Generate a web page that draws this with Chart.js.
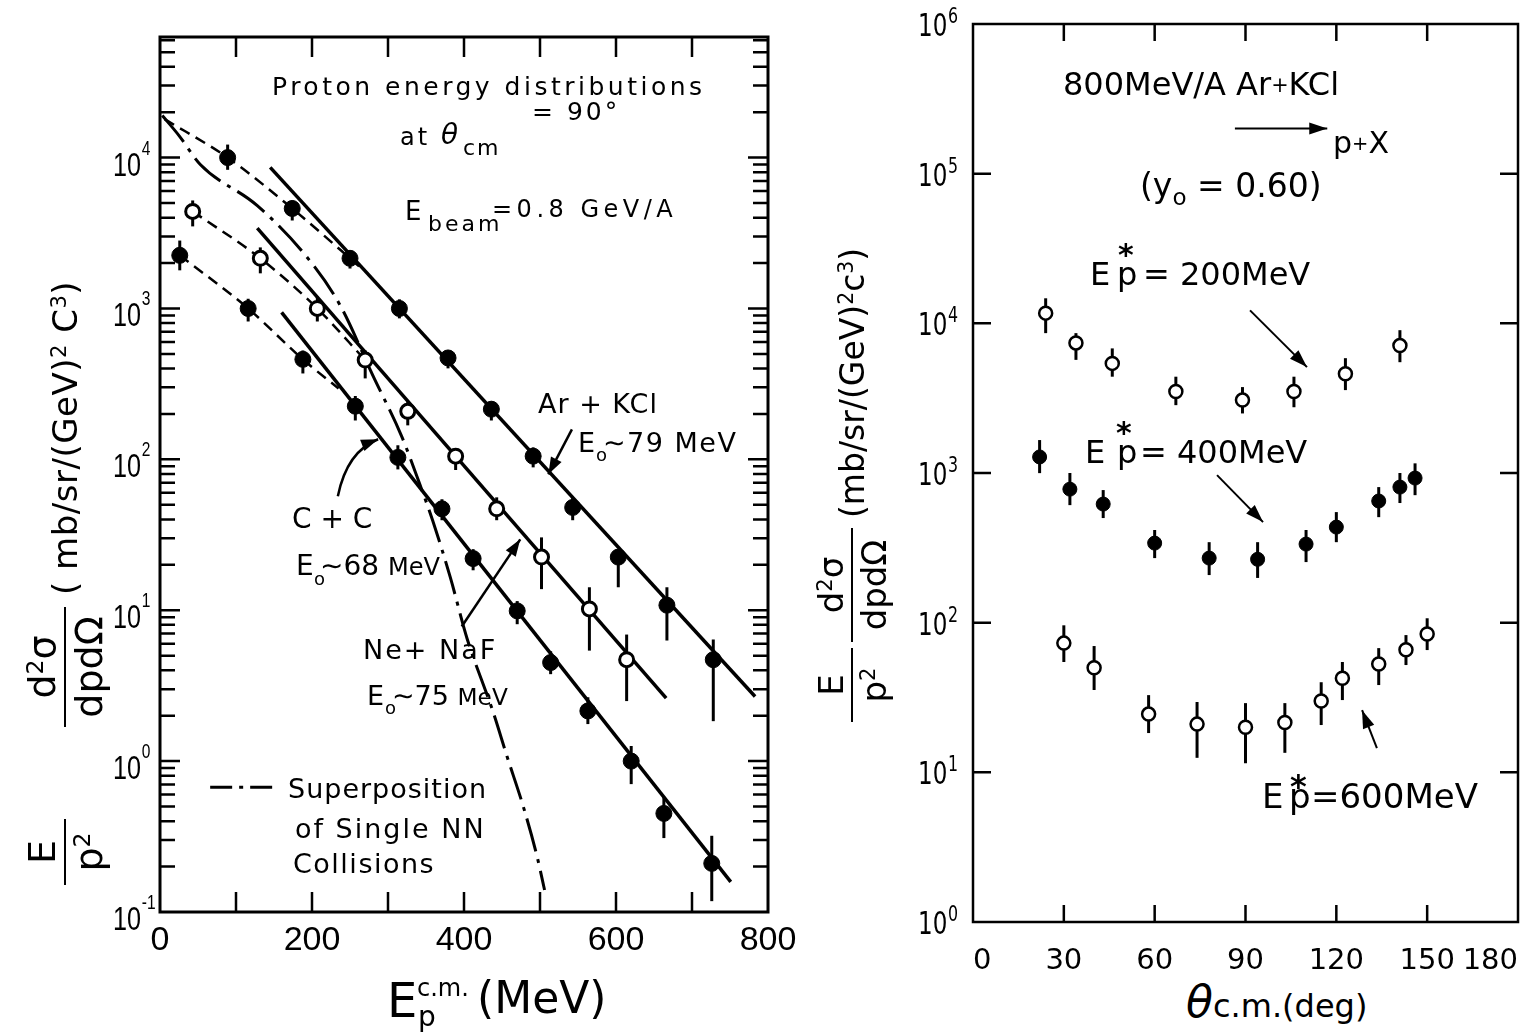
<!DOCTYPE html>
<html>
<head>
<meta charset="utf-8">
<script src="https://cdn.jsdelivr.net/npm/chart.js@4.4.1/dist/chart.umd.min.js"></script>
<style>
  html, body { margin: 0; padding: 0; background: #fff; }
  #page { position: relative; width: 1529px; height: 1035px; overflow: hidden;
          font-family: 'DejaVu Sans', sans-serif; color: #000; }
  canvas { position: absolute; top: 0; }
  .t { position: absolute; white-space: nowrap; line-height: 1; }
  .sub { position: relative; top: 0.35em; font-size: 0.7em; }
  .sup { position: relative; top: -0.5em; font-size: 0.62em; }
  .ytitle { position: absolute; display: flex; align-items: center; white-space: nowrap;
            line-height: 1; transform: rotate(-90deg); transform-origin: 0 50%; }
  .frac { display: inline-flex; flex-direction: column; align-items: stretch; text-align: center; }
  .frac > span:first-child { border-bottom: 2.5px solid #000; padding-bottom: 3px; }
  .frac > span:last-child { padding-top: 4px; }
</style>
</head>
<body>
<div id="page">
  <canvas id="spectra" width="800" height="975" style="left:0"></canvas>
  <canvas id="angular" width="729" height="975" style="left:800px"></canvas>

  <div class="ytitle" style="left:65px; top:840px; height:90px;">
    <span class="frac" style="font-size:38px; margin-right:92px; width:66px"><span>E</span><span>p<span class="sup">2</span></span></span>
    <span class="frac" style="font-size:38px; margin-right:12px; width:120px"><span>d<span class="sup">2</span>σ</span><span>dpdΩ</span></span>
    <span style="font-size:34px; letter-spacing:0.5px">( mb/sr/(GeV)<span class="sup">2</span> C<span class="sup">3</span>)</span>
  </div>

  <div class="ytitle" style="left:852px; top:674px; height:96px;">
    <span class="frac" style="font-size:34px; margin-right:6px; width:74px"><span>E</span><span>p<span class="sup">2</span></span></span>
    <span class="frac" style="font-size:34px; margin-right:10px; width:114px"><span>d<span class="sup">2</span>σ</span><span>dpdΩ</span></span>
    <span style="font-size:33px">(mb/sr/(GeV)<span class="sup">2</span>c<span class="sup">3</span>)</span>
  </div>
</div>

<script>
// ---- left panel: proton energy spectra at 90 deg c.m. ----
const arE   = [89, 174, 250, 315, 379, 436, 491, 543, 603, 667, 728];
const arSig = [1.0e4, 4.6e3, 2.15e3, 1.0e3, 470, 215, 105, 48, 22.5, 10.8, 4.7];
const arLo  = [8.3e3, 3.83e3, 1.84e3, 860, 401, 181, 88.5, 39.5, 14.2, 6.3, 1.84];
const arHi  = [1.22e4, 5.2e3, 2.42e3, 1.15e3, 527, 242, 120, 56, 25, 14.2, 6.4];

const neE   = [43, 132, 207, 270, 326, 389, 443, 502, 565, 614];
const neSig = [4.4e3, 2.15e3, 1.0e3, 455, 208, 105, 47, 22.5, 10.2, 4.7];
const neLo  = [3.5e3, 1.71e3, 820, 344, 168, 85, 39.5, 13.8, 5.4, 2.5];
const neHi  = [5.2e3, 2.54e3, 1.2e3, 527, 242, 115, 56, 30.4, 14.2, 6.9];

const ccE   = [26, 116, 188, 257, 313, 371, 412, 470, 514, 563, 620, 663, 726];
const ccSig = [2.25e3, 1.0e3, 460, 225, 103, 47, 22, 9.9, 4.5, 2.15, 1.0, 0.45, 0.21];
const ccLo  = [1.79e3, 820, 371, 181, 85.8, 39.5, 18.4, 8.08, 3.77, 1.76, 0.704, 0.309, 0.118];
const ccHi  = [2.82e3, 1.16e3, 527, 263, 124, 54.4, 25.4, 11.5, 5.35, 2.65, 1.26, 0.577, 0.32];

// exponential fits  N * exp(-E / E0)
const fitLabels = ['Ar + KCl', 'Ne+ NaF', 'C + C'];
const fitE0     = [79, 75, 68];
const fitNorm   = [5.4e4, 1.88e4, 9.9e3];
const fitFrom   = [145, 128, 160];
const fitTo     = [783, 666, 751];

// dashed guides through the low-energy points
const arGuideE = [6, 89, 174, 250, 262];
const arGuideY = [1.8e4, 1.0e4, 4.6e3, 2.15e3, 1.9e3];
const neGuideE = [43, 132, 207, 270];
const neGuideY = [4.4e3, 2.15e3, 1.0e3, 455];
const ccGuideE = [26, 116, 188, 235];
const ccGuideY = [2.25e3, 1.0e3, 460, 295];

// superposition of single NN collisions
const nnE = [3, 25, 53, 128, 193, 237, 280, 318, 342, 359, 382, 404, 438, 457, 478, 496, 506];
const nnY = [1.9e4, 1.4e4, 9.0e3, 4.8e3, 2.2e3, 1.05e3, 360, 142, 68, 39, 16.5, 6.5, 2.14, 1.06, 0.5, 0.235, 0.14];

const eMarks      = [0, 100, 200, 300, 400, 500, 600, 700, 800];
const eLabels     = [0, 200, 400, 600, 800];
const leftDecades = [-1, 0, 1, 2, 3, 4];
const mantissas   = [1, 2, 3, 4, 5, 6, 7, 8, 9];

// ---- right panel: angular distributions, 800 MeV/A Ar+KCl -> p+X ----
const epStar = [200, 400, 600];

const th200  = [24, 34, 46, 67, 89, 106, 123, 141];
const sig200 = [1.17e4, 7.4e3, 5.4e3, 3.5e3, 3.07e3, 3.5e3, 4.6e3, 7.1e3];
const lo200  = [8.6e3, 5.7e3, 4.4e3, 2.84e3, 2.5e3, 2.75e3, 3.58e3, 5.5e3];
const hi200  = [1.47e4, 8.6e3, 6.8e3, 4.4e3, 3.75e3, 4.4e3, 5.85e3, 9.0e3];

const th400  = [22, 32, 43, 60, 78, 94, 110, 120, 134, 141, 146];
const sig400 = [1.28e3, 780, 620, 340, 270, 265, 335, 435, 650, 805, 925];
const lo400  = [998, 610, 500, 270, 208, 199, 254, 345, 507, 630, 711];
const hi400  = [1.66e3, 1.0e3, 769, 416, 345, 345, 416, 548, 805, 1.0e3, 1.16e3];

const th600  = [30, 40, 58, 74, 90, 103, 115, 122, 134, 143, 150];
const sig600 = [73, 50, 24.5, 21, 20, 21.5, 30, 42.5, 53, 66, 84];
const lo600  = [54.6, 35.5, 18.3, 12.5, 11.5, 13.5, 20.7, 30.4, 38.3, 52.1, 65.6];
const hi600  = [96, 69.8, 32.8, 29.5, 29, 29, 40, 54.6, 67.6, 82.6, 107];

const thetaTicks   = [0, 30, 60, 90, 120, 150, 180];
const rightDecades = [0, 1, 2, 3, 4, 5, 6];

const isDecade = v => Math.abs(Math.log10(v) - Math.round(Math.log10(v))) < 1e-6;
const pts = (xs, ys) => xs.map((x, i) => ({ x, y: ys[i] }));

// "10" with a raised exponent at each decade of the y axis
function drawDecades(chart, L) {
  const { ctx, chartArea: a, scales: { y } } = chart;
  ctx.save();
  ctx.fillStyle = '#000';
  ctx.textAlign = 'left';
  ctx.textBaseline = 'alphabetic';
  y.ticks.forEach(t => {
    if (!isDecade(t.value)) return;
    const e = Math.round(Math.log10(t.value));
    if (!L.decades.includes(e)) return;
    const py = y.getPixelForValue(t.value);
    ctx.save();
    ctx.translate(a.left - L.inset, py);
    ctx.scale(L.squeeze, 1);
    ctx.font = L.font;
    ctx.fillText('10', 0, L.base);
    const w = ctx.measureText('10').width;
    ctx.font = L.expFont;
    ctx.fillText(String(e), w + L.gap, L.expBase);
    ctx.restore();
  });
  ctx.restore();
}

// error bars, frame, inward ticks, arrows and key line
const frameTicks = {
  id: 'frameTicks',
  beforeDatasetsDraw(chart, args, o) {
    const { ctx, scales: { x, y } } = chart;
    ctx.save();
    ctx.strokeStyle = '#000';
    ctx.lineWidth = o.barWidth;
    chart.data.datasets.forEach(ds => {
      if (!ds.errLo) return;
      ds.data.forEach((p, i) => {
        const px = x.getPixelForValue(p.x);
        ctx.beginPath();
        ctx.moveTo(px, y.getPixelForValue(ds.errHi[i]));
        ctx.lineTo(px, y.getPixelForValue(ds.errLo[i]));
        ctx.stroke();
      });
    });
    ctx.restore();
  },
  afterDatasetsDraw(chart, args, o) {
    const { ctx, chartArea: a, scales: { x, y } } = chart;
    ctx.save();
    ctx.strokeStyle = '#000';
    ctx.fillStyle = '#000';
    ctx.lineWidth = o.frameWidth;
    ctx.strokeRect(a.left, a.top, a.right - a.left, a.bottom - a.top);

    ctx.lineWidth = o.tickWidth;
    ctx.beginPath();
    x.ticks.forEach(t => {
      if (t.value <= x.min || t.value >= x.max) return;
      const px = x.getPixelForValue(t.value);
      ctx.moveTo(px, a.bottom); ctx.lineTo(px, a.bottom - o.xTickLen);
      ctx.moveTo(px, a.top); ctx.lineTo(px, a.top + o.xTickLen);
    });
    y.ticks.forEach(t => {
      if (t.value <= y.min * 1.0001 || t.value >= y.max * 0.9999) return;
      const py = y.getPixelForValue(t.value);
      const len = isDecade(t.value) ? o.yMajorLen : o.yMinorLen;
      if (!len) return;
      ctx.moveTo(a.left, py); ctx.lineTo(a.left + len, py);
      ctx.moveTo(a.right, py); ctx.lineTo(a.right - len, py);
    });
    ctx.stroke();

    // annotation arrows, given in data coordinates
    ctx.lineWidth = o.arrowWidth;
    (o.arrows || []).forEach(ar => {
      const p0 = [x.getPixelForValue(ar.from[0]), y.getPixelForValue(ar.from[1])];
      const p1 = [x.getPixelForValue(ar.to[0]), y.getPixelForValue(ar.to[1])];
      let d;
      ctx.beginPath();
      ctx.moveTo(p0[0], p0[1]);
      if (ar.via) {
        const c = [x.getPixelForValue(ar.via[0]), y.getPixelForValue(ar.via[1])];
        ctx.quadraticCurveTo(c[0], c[1], p1[0], p1[1]);
        d = [p1[0] - c[0], p1[1] - c[1]];
      } else {
        ctx.lineTo(p1[0], p1[1]);
        d = [p1[0] - p0[0], p1[1] - p0[1]];
      }
      ctx.stroke();
      const len = Math.hypot(d[0], d[1]);
      const ux = d[0] / len, uy = d[1] / len;
      const hl = o.headLen, hw = o.headWidth;
      ctx.beginPath();
      ctx.moveTo(p1[0], p1[1]);
      ctx.lineTo(p1[0] - ux * hl - uy * hw, p1[1] - uy * hl + ux * hw);
      ctx.lineTo(p1[0] - ux * hl + uy * hw, p1[1] - uy * hl - ux * hw);
      ctx.closePath();
      ctx.fill();
    });

    // key line for the dash-dot curve
    if (o.key) {
      ctx.lineWidth = o.key.width;
      ctx.setLineDash(o.key.dash);
      ctx.beginPath();
      ctx.moveTo(x.getPixelForValue(o.key.from[0]), y.getPixelForValue(o.key.from[1]));
      ctx.lineTo(x.getPixelForValue(o.key.to[0]), y.getPixelForValue(o.key.to[1]));
      ctx.stroke();
    }
    ctx.restore();

    if (o.labels) drawDecades(chart, o.labels);
  }
};

const filled = (label, xs, ys, lo, hi, r) => ({
  label, data: pts(xs, ys), errLo: lo, errHi: hi, showLine: false, order: 0,
  pointRadius: r, pointBackgroundColor: '#000', pointBorderColor: '#000', pointBorderWidth: 1
});
const open = (label, xs, ys, lo, hi, r, bw) => ({
  label, data: pts(xs, ys), errLo: lo, errHi: hi, showLine: false, order: 0,
  pointRadius: r, pointBackgroundColor: '#fff', pointBorderColor: '#000', pointBorderWidth: bw
});
const curve = (label, xs, ys, width, dash) => ({
  label, data: pts(xs, ys), showLine: true, order: 2, pointRadius: 0,
  borderColor: '#000', borderWidth: width, borderDash: dash, cubicInterpolationMode: 'monotone'
});

const fitLines = fitE0.map((e0, i) => ({
  label: fitLabels[i] + ' fit',
  data: [fitFrom[i], fitTo[i]].map(e => ({ x: e, y: fitNorm[i] * Math.exp(-e / e0) })),
  showLine: true, order: 1, pointRadius: 0, borderColor: '#000', borderWidth: 3.5
}));

// keep the plot boxes where the layout puts them: no label-driven padding
const noPad = s => { s.paddingLeft = s.paddingRight = s.paddingTop = s.paddingBottom = 0; };

new Chart(document.getElementById('spectra'), {
  type: 'scatter',
  data: {
    datasets: [
      filled('Ar + KCl', arE, arSig, arLo, arHi, 8),
      open('Ne + NaF', neE, neSig, neLo, neHi, 7, 3),
      filled('C + C', ccE, ccSig, ccLo, ccHi, 8),
      ...fitLines,
      curve('Ar + KCl guide', arGuideE, arGuideY, 2.5, [11, 7]),
      curve('Ne + NaF guide', neGuideE, neGuideY, 2.5, [11, 7]),
      curve('C + C guide', ccGuideE, ccGuideY, 2.5, [11, 7]),
      curve('Superposition of single NN collisions', nnE, nnY, 3, [34, 8, 4, 8])
    ]
  },
  options: {
    responsive: false, animation: false, devicePixelRatio: 1,
    layout: { autoPadding: false, padding: { left: 0, top: 37, right: 32, bottom: 0 } },
    plugins: {
      legend: { display: false }, tooltip: { enabled: false },
      frameTicks: {
        barWidth: 3, frameWidth: 3, tickWidth: 2.5, xTickLen: 20, yMajorLen: 20, yMinorLen: 15,
        arrowWidth: 2.5, headLen: 17, headWidth: 6,
        arrows: [
          { from: [542, 158], to: [511, 79.6] },
          { from: [234, 57], via: [246, 113], to: [287, 136] },
          { from: [397, 7.8], to: [474, 29.5] }
        ],
        key: { from: [66, 0.67], to: [149, 0.67], width: 3, dash: [22, 7, 4, 7] },
        labels: {
          decades: leftDecades, inset: 47, squeeze: 0.74, gap: 1, base: 18, expBase: -3,
          font: "34px 'Liberation Sans', sans-serif", expFont: "21px 'Liberation Sans', sans-serif"
        }
      }
    },
    scales: {
      x: {
        type: 'linear', min: 0, max: 800,
        grid: { display: false, drawTicks: false }, border: { display: false },
        afterBuildTicks: s => { s.ticks = eMarks.map(v => ({ value: v })); },
        afterFit: s => { s.height = 63; noPad(s); },
        ticks: {
          autoSkip: false, maxRotation: 0, padding: 8, color: '#000',
          font: { family: "'Liberation Sans', sans-serif", size: 34 },
          callback: v => eLabels.includes(v) ? String(v) : ''
        }
      },
      y: {
        type: 'logarithmic', min: 0.1, max: 6.3e4,
        grid: { display: false, drawTicks: false }, border: { display: false },
        afterBuildTicks: s => {
          const t = [];
          leftDecades.forEach(e => mantissas.forEach(m => {
            const v = m * Math.pow(10, e);
            if (v >= s.min && v <= s.max) t.push({ value: v });
          }));
          s.ticks = t;
        },
        afterFit: s => { s.width = 160; noPad(s); },
        ticks: { display: false }
      }
    }
  },
  plugins: [frameTicks]
});

new Chart(document.getElementById('angular'), {
  type: 'scatter',
  data: {
    datasets: [
      open('E*p = 200 MeV', th200, sig200, lo200, hi200, 6.5, 2.5),
      filled('E*p = 400 MeV', th400, sig400, lo400, hi400, 7),
      open('E*p = 600 MeV', th600, sig600, lo600, hi600, 6.5, 2.5)
    ]
  },
  options: {
    responsive: false, animation: false, devicePixelRatio: 1,
    layout: { autoPadding: false, padding: { left: 0, top: 24, right: 11, bottom: 0 } },
    plugins: {
      legend: { display: false }, tooltip: { enabled: false },
      frameTicks: {
        barWidth: 3, frameWidth: 2.5, tickWidth: 2.5, xTickLen: 17, yMajorLen: 18, yMinorLen: 0,
        arrowWidth: 2, headLen: 18, headWidth: 6,
        arrows: [
          { from: [86.5, 2.0e5], to: [117, 2.0e5] },
          { from: [91.5, 1.22e4], to: [110.3, 5.1e3] },
          { from: [80.6, 968], to: [95.8, 470] },
          { from: [133.4, 14.5], to: [128.5, 26] }
        ],
        labels: {
          decades: rightDecades, inset: 55, squeeze: 0.72, gap: 1, base: 12, expBase: -1,
          font: "32px 'DejaVu Sans', sans-serif", expFont: "22px 'DejaVu Sans', sans-serif"
        }
      }
    },
    scales: {
      x: {
        type: 'linear', min: 0, max: 180,
        grid: { display: false, drawTicks: false }, border: { display: false },
        afterBuildTicks: s => { s.ticks = thetaTicks.map(v => ({ value: v })); },
        afterFit: s => { s.height = 53; noPad(s); },
        ticks: {
          autoSkip: false, maxRotation: 0, padding: 22, align: 'inner', color: '#000',
          font: { family: "'DejaVu Sans', sans-serif", size: 29 }
        }
      },
      y: {
        type: 'logarithmic', min: 1, max: 1e6,
        grid: { display: false, drawTicks: false }, border: { display: false },
        afterBuildTicks: s => { s.ticks = rightDecades.map(e => ({ value: Math.pow(10, e) })); },
        afterFit: s => { s.width = 173; noPad(s); },
        ticks: { display: false }
      }
    }
  },
  plugins: [frameTicks]
});

// ---- text annotations: [x, baseline, font size, html, extra css] ----
const plus = '<span style="font-size:0.65em;position:relative;top:-0.15em">+</span>';
const notes = [
  [272, 95, 25, 'Proton energy distributions', 'letter-spacing:3.5px'],
  [400, 145, 24, 'at', 'letter-spacing:3px'],
  [441, 145, 28, '\u03B8', 'font-style:italic'],
  [463, 156, 22, 'cm', 'letter-spacing:2px'],
  [532, 120, 25, '= 90\u00B0', 'letter-spacing:3px'],
  [405, 220, 26, 'E', ''],
  [428, 232, 22, 'beam', 'letter-spacing:3px'],
  [492, 217, 24, '=0.8 GeV/A', 'letter-spacing:4.5px'],

  [538, 413, 27, fitLabels[0], 'letter-spacing:1px'],
  [578, 452, 27, 'E', ''], [596, 461, 18, 'o', ''],
  [603, 452, 27, '\u223C' + fitE0[0] + ' MeV', 'letter-spacing:1.5px'],
  [292, 529, 28, fitLabels[2], ''],
  [296, 576, 28, 'E', ''], [314, 585, 18, 'o', ''],
  [320, 576, 28, '\u223C' + fitE0[2] + ' <span style="font-size:0.86em">MeV</span>', ''],
  [363, 659, 27, fitLabels[1], 'letter-spacing:2px'],
  [367, 705, 27, 'E', ''], [385, 714, 18, 'o', ''],
  [392, 705, 27, '\u223C' + fitE0[1] + ' <span style="font-size:0.86em">MeV</span>', ''],

  [288, 798, 27, 'Superposition', 'letter-spacing:1px'],
  [295, 838, 27, 'of Single NN', 'letter-spacing:2px'],
  [293, 873, 27, 'Collisions', 'letter-spacing:1.5px'],

  [387, 1017, 48, 'E', ''],
  [417, 996, 24, 'c.m.', ''],
  [418, 1027, 28, 'p', ''],
  [477, 1013, 44, '(MeV)', ''],

  [1063, 95, 32, '800MeV/A Ar' + plus + 'KCl', ''],
  [1333, 153, 30, 'p' + plus + 'X', ''],
  [1140, 197, 33, '(y<span class="sub">o</span> = 0.60)', ''],

  [1090, 285, 32, 'E', ''], [1117, 285, 32, 'p', ''], [1118, 265, 30, '*', 'font-weight:bold'],
  [1143, 285, 32, '= ' + epStar[0] + 'MeV', ''],
  [1085, 463, 32, 'E', ''], [1117, 463, 32, 'p', ''], [1116, 443, 30, '*', 'font-weight:bold'],
  [1140, 463, 32, '= ' + epStar[1] + 'MeV', ''],
  [1262, 808, 34, 'E', ''], [1289, 808, 34, 'p', ''], [1290, 797, 32, '*', 'font-weight:bold'],
  [1311, 808, 34, '=' + epStar[2] + 'MeV', ''],

  [1186, 1017, 44, '\u03B8', 'font-style:italic'],
  [1213, 1017, 32, 'c.m.(deg)', '']
];

const page = document.getElementById('page');
notes.forEach(([x, base, fs, html, css]) => {
  const d = document.createElement('div');
  d.className = 't';
  d.style.cssText = `left:${x}px; top:${(base - 0.846 * fs).toFixed(1)}px; font-size:${fs}px; ${css}`;
  d.innerHTML = html;
  page.appendChild(d);
});
</script>
</body>
</html>
